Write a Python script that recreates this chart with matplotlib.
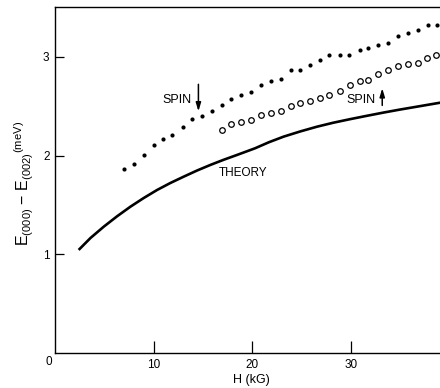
import matplotlib
matplotlib.use('Agg')
import matplotlib.pyplot as plt

plt.rcParams['font.family'] = ['Liberation Sans', 'DejaVu Sans']
plt.rcParams['mathtext.fontset'] = 'custom'
plt.rcParams['mathtext.rm'] = 'Liberation Sans'
plt.rcParams['mathtext.it'] = 'Liberation Sans:italic'
plt.rcParams['mathtext.bf'] = 'Liberation Sans:bold'

# spin down (filled dots)
h_down = [7.0, 8.0, 9.0, 10.0, 11.0, 11.9, 13.0, 13.9, 14.9, 15.9, 16.9, 17.9,
          18.9, 19.9, 20.9, 21.9, 22.9, 23.9, 24.9, 25.9, 26.9, 27.8, 28.9,
          29.8, 30.9, 31.8, 32.8, 33.8, 34.8, 35.8, 36.8, 37.8, 38.8]
e_down = [1.86, 1.915, 2.01, 2.11, 2.165, 2.21, 2.29, 2.37, 2.405, 2.452, 2.513, 2.57,
          2.611, 2.64, 2.71, 2.752, 2.776, 2.864, 2.864, 2.915, 2.969, 3.019, 3.019,
          3.019, 3.07, 3.087, 3.118, 3.144, 3.213, 3.239, 3.272, 3.32, 3.326]

# spin up (open circles)
h_up = [16.9, 17.9, 18.9, 19.9, 20.9, 21.9, 22.9, 23.9, 24.9, 25.9, 26.9, 27.8,
        28.9, 29.9, 30.9, 31.8, 32.8, 33.8, 34.8, 35.8, 36.8, 37.7, 38.7]
e_up = [2.259, 2.317, 2.337, 2.361, 2.408, 2.432, 2.455, 2.506, 2.53, 2.556, 2.581, 2.616,
        2.656, 2.715, 2.76, 2.762, 2.823, 2.867, 2.908, 2.925, 2.941, 2.992, 3.019]

# theory curve
h_th = [2.4, 3.6, 4.95, 6.3, 7.65, 9.0, 10.35, 11.7, 13.05, 14.4, 15.76, 17.1,
        18.46, 20.3, 21.7, 23.2, 24.9, 26.6, 28.2, 29.9, 31.6, 33.3, 35.0, 36.7, 39.1]
e_th = [1.044, 1.165, 1.280, 1.385, 1.482, 1.570, 1.651, 1.722, 1.786, 1.848, 1.905, 1.957,
        2.006, 2.074, 2.135, 2.192, 2.245, 2.293, 2.332, 2.368, 2.402, 2.435, 2.466, 2.495, 2.536]

fig = plt.figure(figsize=(4.4, 3.88), dpi=100)
ax = fig.add_axes([55 / 440, 35 / 388, 385 / 440, 346 / 388])

ax.plot(h_th, e_th, color='black', lw=1.9, solid_capstyle='butt', solid_joinstyle='round')
ax.plot(h_down, e_down, 'o', color='black', ms=3.0, mew=0)
ax.plot(h_up, e_up, 'o', mfc='white', mec='black', ms=4.0, mew=0.9)

ax.set_xlim(0, 39.06)
ax.set_ylim(0, 3.505)
ax.set_xticks([10, 20, 30])
ax.set_yticks([1, 2, 3])
ax.tick_params(axis='x', direction='in', length=9, width=0.9, labelsize=8.5, pad=4)
ax.tick_params(axis='y', direction='in', length=6.5, width=0.9, labelsize=8.5, pad=4)
ax.spines['right'].set_visible(False)
for s in ['left', 'bottom', 'top']:
    ax.spines[s].set_linewidth(1.0)

ax.text(-0.65, -0.09, '0', fontsize=8.5, ha='center', va='center', clip_on=False)

ax.text(12.4, 2.56, 'SPIN', fontsize=9, ha='center', va='center')
ax.annotate('', xy=(14.55, 2.42), xytext=(14.55, 2.75),
            arrowprops=dict(arrowstyle='-|>,head_width=0.15,head_length=0.5',
                            lw=1.1, color='black'))
ax.text(31.0, 2.56, 'SPIN', fontsize=9, ha='center', va='center')
ax.annotate('', xy=(33.2, 2.71), xytext=(33.2, 2.48),
            arrowprops=dict(arrowstyle='-|>,head_width=0.15,head_length=0.5',
                            lw=1.1, color='black'))
ax.text(19.1, 1.82, 'THEORY', fontsize=8.5, ha='center', va='center')

fig.text(251 / 440, 1 - 380 / 388, 'H (kG)', fontsize=9, ha='center', va='center')
fig.text(24 / 440, 1 - 183 / 388,
         r'E$_{(000)}$ $-$ E$_{(002)}$$^{\mathrm{(meV)}}$',
         rotation=90, ha='center', va='center', fontsize=11.5)

fig.savefig('out.png', dpi=100, facecolor='white')
plt.close(fig)
